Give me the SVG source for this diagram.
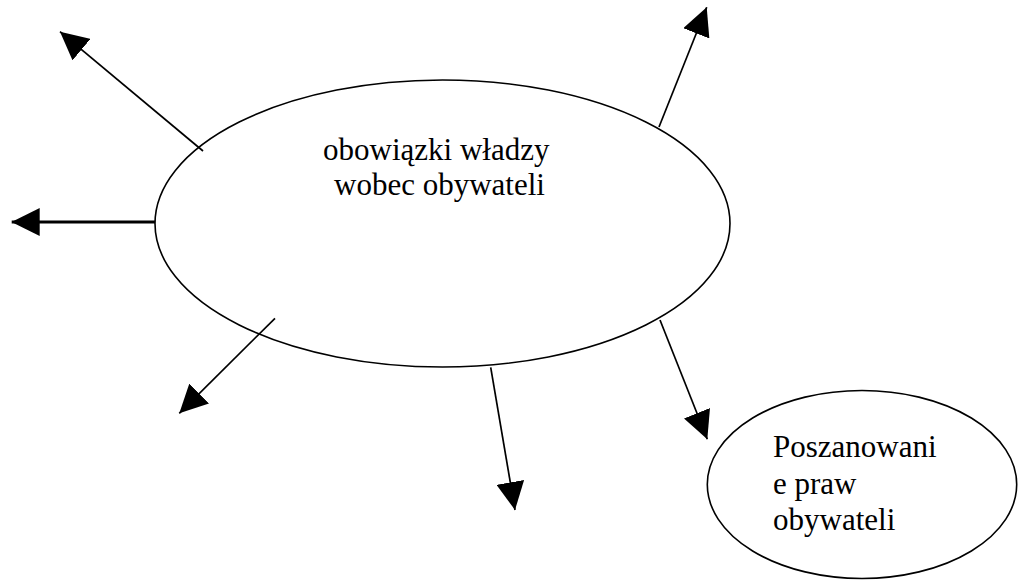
<svg xmlns="http://www.w3.org/2000/svg" width="1019" height="581" viewBox="0 0 1019 581">
<style>
.node{fill:#ffffff;stroke:#000000;stroke-width:1.6}
.lbl{font-family:"Liberation Serif","Times New Roman",serif;font-size:31px;fill:#000000}
.conn{stroke:#000000;stroke-width:1.7;fill:none;marker-end:url(#ah)}
.thick{stroke-width:2.8}
</style>
<defs>
<marker id="ah" markerUnits="userSpaceOnUse" markerWidth="28" markerHeight="28" viewBox="0 0 27 27" refX="27" refY="13.5" orient="auto">
<path d="M0,0 L27,13.5 L0,27 Z" fill="#000000"/>
</marker>
</defs>
<rect width="1019" height="581" fill="#ffffff"/>
<g id="main">
<ellipse class="node" cx="442.5" cy="223.5" rx="287.5" ry="143.5"/>
<text class="lbl" x="323" y="160">obowiązki władzy</text>
<text class="lbl" x="334" y="195">wobec obywateli</text>
</g>
<g id="poszanowanie">
<ellipse class="node" cx="862" cy="484.5" rx="154.7" ry="94"/>
<text class="lbl" x="773" y="457">Poszanowani</text>
<text class="lbl" x="773" y="494">e praw</text>
<text class="lbl" x="773" y="530">obywateli</text>
</g>
<g id="connectors">
<line class="conn" x1="203" y1="151" x2="60" y2="31.7"/>
<line class="conn thick" x1="155" y1="222" x2="11.7" y2="222"/>
<line class="conn" x1="659" y1="127" x2="706.7" y2="7.3"/>
<line class="conn" x1="275" y1="318.3" x2="179.3" y2="413.3"/>
<line class="conn" x1="490.7" y1="367.3" x2="515" y2="510"/>
<line class="conn" x1="660" y1="320" x2="707.3" y2="439.3"/>
</g>
</svg>
